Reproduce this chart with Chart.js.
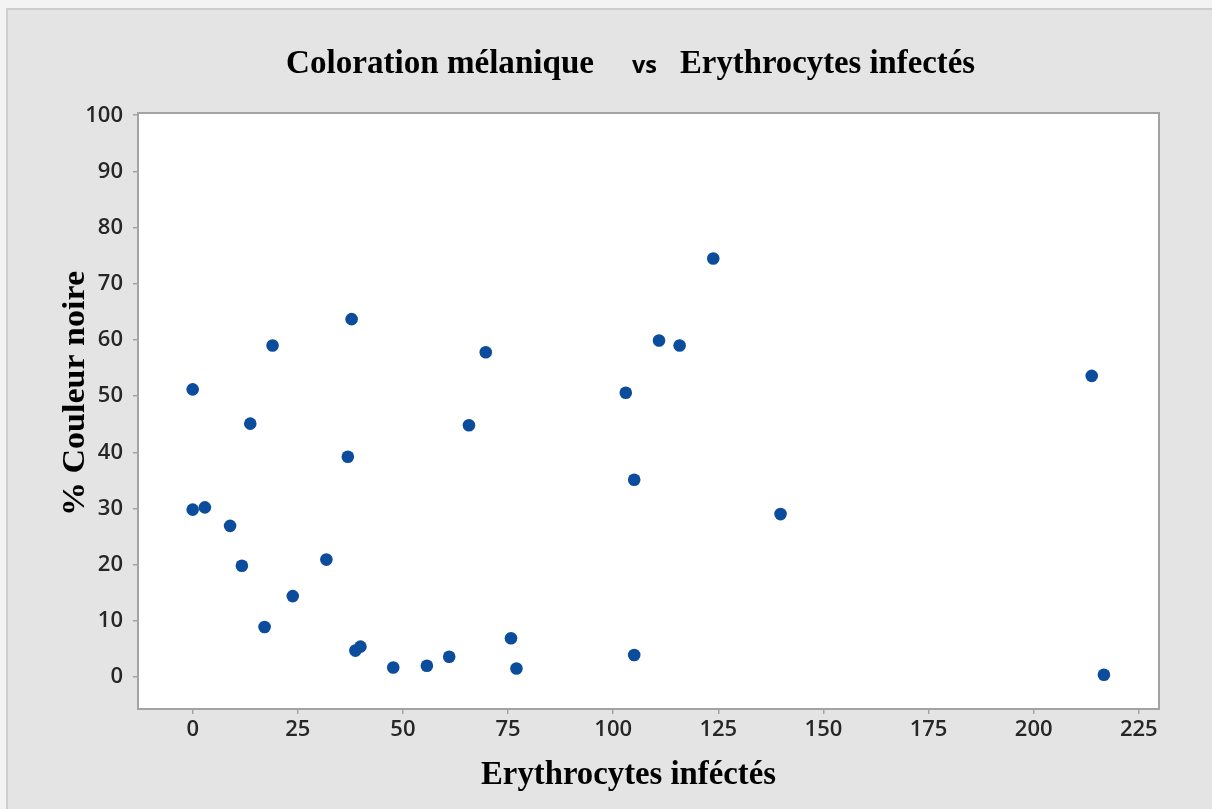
<!DOCTYPE html>
<html>
<head>
<meta charset="utf-8">
<title>Coloration mélanique vs Erythrocytes infectés</title>
<script src="https://cdn.jsdelivr.net/npm/chart.js@4.4.1/dist/chart.umd.min.js"></script>
<style>
  html, body { margin: 0; padding: 0; background: #f2f2f2; }
  #wrap { position: relative; width: 1212px; height: 809px; }
</style>
</head>
<body>
<div id="wrap"><canvas id="chart" width="1212" height="809"></canvas></div>
<script>
// Infected erythrocytes (x) and % black colouration (y), one entry per sample
const infectedRBC = [0, 0, 2.9, 8.9, 11.7, 17.1, 13.7, 19.0, 23.8, 31.8, 36.9, 37.8, 38.7, 39.9, 47.7,
  55.7, 61.0, 65.7, 69.7, 75.7, 77.0, 103.0, 105.0, 105.0, 110.9, 115.8, 123.8, 139.8, 213.8, 216.7];
const blackPct = [51.2, 29.8, 30.2, 26.9, 19.8, 8.9, 45.1, 59.0, 14.4, 20.9, 39.2, 63.7, 4.7, 5.4, 1.7,
  2.0, 3.6, 44.8, 57.8, 6.9, 1.5, 50.6, 35.1, 3.9, 59.9, 59.0, 74.5, 29.0, 53.6, 0.4];

const xTicks = [0, 25, 50, 75, 100, 125, 150, 175, 200, 225];
const yTicks = [0, 10, 20, 30, 40, 50, 60, 70, 80, 90, 100];

const titleLeft = 'Coloration mélanique';
const titleMid = 'vs';
const titleRight = 'Erythrocytes infectés';
const xTitle = 'Erythrocytes inféctés';
const yTitle = '% Couleur noire';

const points = infectedRBC.map((x, i) => ({ x, y: blackPct[i] }));

// draw text squeezed/stretched to a given width
function fitText(ctx, text, x, y, width) {
  const w = ctx.measureText(text).width;
  ctx.save();
  ctx.translate(x, y);
  ctx.scale(width / w, 1);
  ctx.fillText(text, 0, 0);
  ctx.restore();
}

const backdrop = {
  id: 'backdrop',
  beforeDraw(chart) {
    const { ctx, chartArea: a } = chart;
    ctx.save();
    ctx.fillStyle = '#f3f3f3';
    ctx.fillRect(0, 0, chart.width, chart.height);
    ctx.fillStyle = '#cdcdcd';
    ctx.fillRect(6, 8, chart.width - 6, chart.height - 8);
    ctx.fillStyle = '#e4e4e4';
    ctx.fillRect(8, 10, chart.width - 8, chart.height - 10);
    ctx.fillStyle = '#ffffff';
    ctx.fillRect(a.left, a.top, a.right - a.left, a.bottom - a.top);
    ctx.restore();
  },
  beforeDatasetsDraw(chart) {
    const { ctx, chartArea: a } = chart;
    ctx.save();
    ctx.strokeStyle = '#a3a3a3';
    ctx.lineWidth = 2;
    ctx.strokeRect(a.left, a.top, a.right - a.left, a.bottom - a.top);
    ctx.restore();
  },
  afterDraw(chart) {
    const { ctx } = chart;
    ctx.save();
    ctx.fillStyle = '#000';
    ctx.textBaseline = 'alphabetic';
    // main title: serif parts with a sans "vs" between them
    ctx.font = 'bold 34px "Liberation Serif", "Times New Roman", serif';
    fitText(ctx, titleLeft, 286, 73, 308);
    fitText(ctx, titleRight, 680, 73, 295);
    ctx.font = 'bold 23px "Open Sans", sans-serif';
    fitText(ctx, titleMid, 632, 73, 25);
    // axis titles
    ctx.font = 'bold 34px "Liberation Serif", "Times New Roman", serif';
    fitText(ctx, xTitle, 481, 784, 295);
    ctx.translate(84, 516);
    ctx.rotate(-Math.PI / 2);
    ctx.font = 'bold 32px "Liberation Serif", "Times New Roman", serif';
    fitText(ctx, yTitle, 0, 0, 245);
    ctx.restore();
  }
};

const tickFont = { family: '"Open Sans", sans-serif', size: 22, weight: '600' };

new Chart(document.getElementById('chart'), {
  type: 'scatter',
  data: {
    datasets: [{
      data: points,
      backgroundColor: '#0b4c9c',
      borderColor: '#0b4c9c',
      borderWidth: 0,
      pointRadius: 6.3,
      pointHoverRadius: 6.3
    }]
  },
  options: {
    responsive: false,
    animation: false,
    events: [],
    layout: { autoPadding: false, padding: { top: 113, right: 53, bottom: 0, left: 0 } },
    plugins: { legend: { display: false }, tooltip: { enabled: false }, title: { display: false } },
    scales: {
      x: {
        type: 'linear',
        min: -13,
        max: 229.8,
        afterBuildTicks: s => { s.ticks = xTicks.map(v => ({ value: v })); },
        afterFit: s => { s.height = 100; },
        border: { display: false },
        grid: { drawOnChartArea: false, drawTicks: true, tickLength: 5, color: '#a3a3a3', lineWidth: 1.5 },
        ticks: { font: tickFont, color: '#262626', padding: 3, maxRotation: 0, autoSkip: false }
      },
      y: {
        type: 'linear',
        min: -5.7,
        max: 100.4,
        afterBuildTicks: s => { s.ticks = yTicks.map(v => ({ value: v })); },
        afterFit: s => { s.width = 138; },
        border: { display: false },
        grid: { drawOnChartArea: false, drawTicks: true, tickLength: 5, color: '#a3a3a3', lineWidth: 1.5 },
        ticks: { font: tickFont, color: '#262626', padding: 10, autoSkip: false }
      }
    }
  },
  plugins: [backdrop]
});
</script>
</body>
</html>
